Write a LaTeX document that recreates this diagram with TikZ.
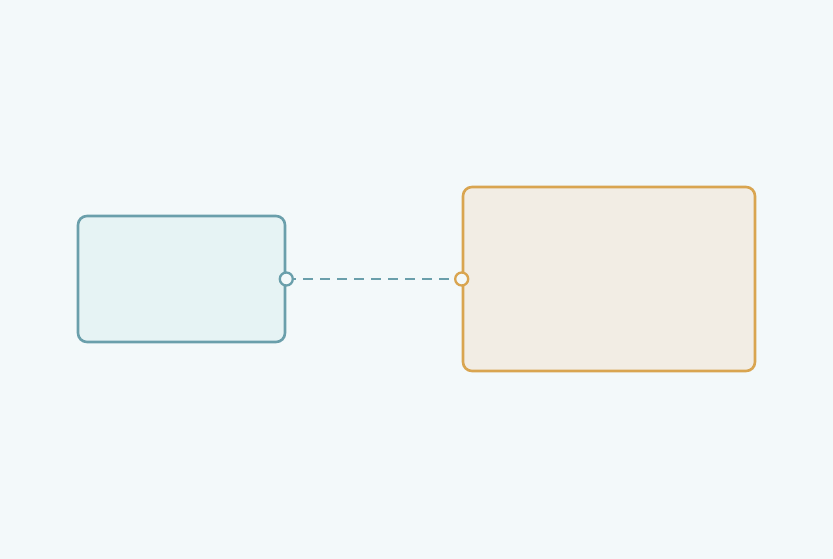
\documentclass[tikz,border=0pt]{standalone}
\definecolor{bgc}{HTML}{F3F9FA}
\definecolor{tealc}{HTML}{6A9FAB}
\definecolor{tealf}{HTML}{E6F3F4}
\definecolor{ochre}{HTML}{D9A550}
\definecolor{ochref}{HTML}{F2EDE4}
\tikzset{
  box/.style={draw, rounded corners=9pt, line width=2.6pt, inner sep=0pt},
  port/.style={circle, draw, fill=bgc, line width=2.3pt, minimum size=13pt, inner sep=0pt},
  link/.style={draw=tealc, line width=2.6pt, dash pattern=on 10pt off 7pt}
}
\begin{document}
\begin{tikzpicture}[x=1pt,y=-1pt]
\fill[bgc] (0,0) rectangle (833,559);
\useasboundingbox (0,0) rectangle (833,559);
\node[box, draw=tealc, fill=tealf, minimum width=207pt, minimum height=126pt] (a) at (181.5,279) {};
\node[box, draw=ochre, fill=ochref, minimum width=292pt, minimum height=184pt] (b) at (609,279) {};
\path[link] (a.east) -- (b.west);
\node[port, draw=tealc] (pa) at (a.east) {};
\node[port, draw=ochre] (pb) at (b.west) {};
\end{tikzpicture}
\end{document}
